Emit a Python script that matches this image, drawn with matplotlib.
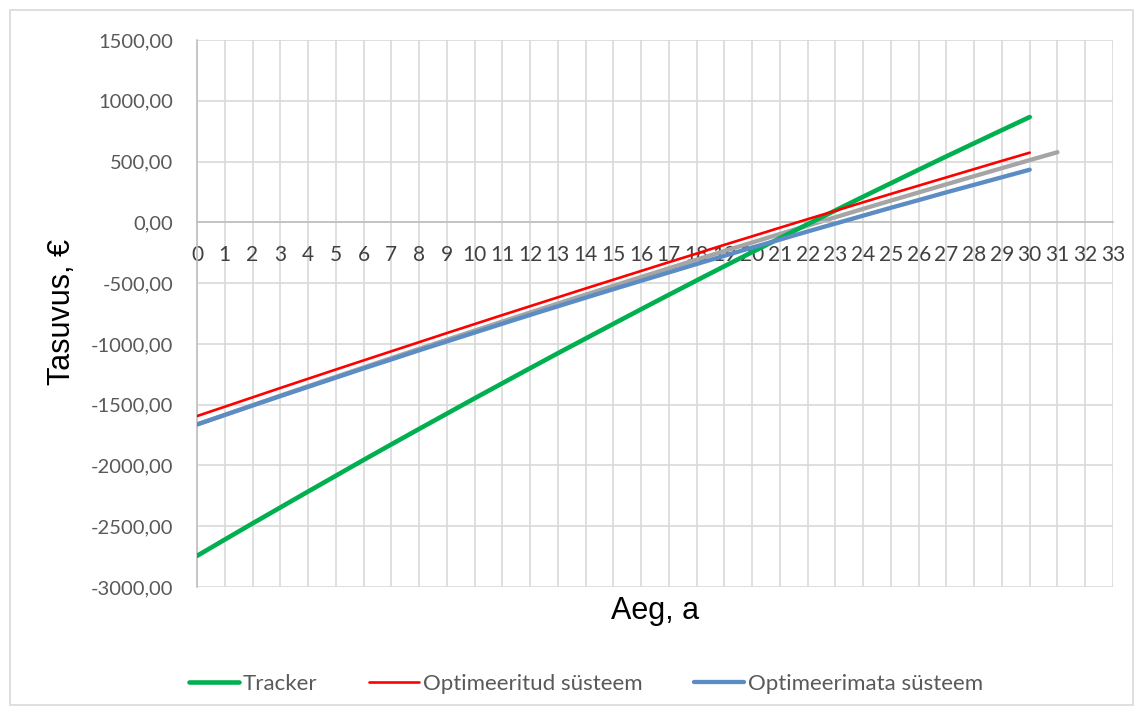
import numpy as np
import matplotlib
matplotlib.use("Agg")
import matplotlib.pyplot as plt
from matplotlib.patches import Rectangle
from matplotlib.ticker import FuncFormatter, MultipleLocator

# -------------------- data (EUR per year) --------------------
years = list(range(0, 31))
years_ext = list(range(0, 32))

tracker = [-2744, -2610, -2477, -2346, -2215, -2085, -1955, -1827, -1700, -1574,
           -1448, -1324, -1200, -1077, -956, -835, -715, -596, -478, -361,
           -245, -130, -15, 98, 211, 322, 433, 543, 651, 759, 866]

optimeeritud = [-1594, -1517, -1440, -1363, -1287, -1211, -1136, -1061, -986, -911,
                -837, -763, -690, -617, -544, -472, -400, -328, -257, -185,
                -115, -44, 26, 95, 165, 234, 302, 370, 438, 506, 573]

optimeerimata = [-1663, -1585, -1507, -1430, -1354, -1278, -1202, -1128, -1053, -980,
                 -907, -834, -762, -691, -620, -550, -481, -412, -343, -275,
                 -208, -142, -75, -10, 55, 120, 183, 247, 309, 371, 433]

# extra series (not in legend), one year longer
lisa = [-1663, -1584, -1505, -1426, -1348, -1271, -1194, -1117, -1041, -966,
        -891, -816, -742, -668, -595, -522, -450, -378, -307, -236,
        -166, -96, -27, 42, 111, 179, 246, 313, 380, 446, 512, 577]

series_labels = ["Tracker", "Optimeeritud süsteem", "Optimeerimata süsteem"]

# -------------------- figure --------------------
fig = plt.figure(figsize=(11.41, 7.15), dpi=100)
ax = fig.add_axes([197 / 1141, 1 - 587 / 715, (1113 - 197) / 1141, (587 - 40) / 715])

ax.plot(years_ext, lisa, color="#A5A5A5", lw=3.1, solid_capstyle="round", zorder=2)
ax.plot(years, tracker, color="#00B050", lw=3.3, solid_capstyle="round", zorder=3, label=series_labels[0])
ax.plot(years, optimeeritud, color="#FF0000", lw=1.9, solid_capstyle="round", zorder=4, label=series_labels[1])
ax.plot(years, optimeerimata, color="#5B8CC4", lw=3.1, solid_capstyle="round", zorder=3.5, label=series_labels[2])

ax.set_xlim(0, 33)
ax.set_ylim(-3000, 1500)
ax.xaxis.set_major_locator(MultipleLocator(1))
ax.yaxis.set_major_locator(MultipleLocator(500))
ax.yaxis.set_major_formatter(FuncFormatter(lambda v, p: f"{v:.2f}".replace(".", ",")))

ax.grid(True, color="#d9d9d9", lw=1.2, zorder=0)
ax.set_axisbelow(True)

for s in ["top", "right"]:
    ax.spines[s].set_visible(False)
ax.spines["left"].set_color("#bfbfbf")
ax.spines["left"].set_linewidth(1.2)
ax.spines["bottom"].set_position(("data", 0))
ax.spines["bottom"].set_color("#bfbfbf")
ax.spines["bottom"].set_linewidth(1.2)

ax.tick_params(axis="x", length=0, pad=16, labelsize=15, labelcolor="#404040")
ax.tick_params(axis="y", length=0, pad=17, labelsize=14.5, labelcolor="#595959")
for t in ax.get_xticklabels() + ax.get_yticklabels():
    t.set_family("Lato")

# axis titles
fig.text(655 / 1141, 1 - 611 / 715, "Aeg, a", fontsize=22, family="Liberation Sans",
         ha="center", va="center")
fig.text(62 / 1141, 1 - 312 / 715, "Tasuvus, €", fontsize=22, family="Liberation Sans",
         rotation=90, ha="center", va="center")

# legend
fig.legend(loc="center", bbox_to_anchor=(586 / 1141, 1 - 684 / 715), ncol=3,
           frameon=False, handlelength=2.25, handletextpad=0.2, columnspacing=2.3,
           prop={"family": "Lato", "size": 16}, labelcolor="#595959")

# chart area border
fig.patches.append(Rectangle((10 / 1141, 10 / 715), 1123 / 1141, 695 / 715,
                             transform=fig.transFigure, fill=False,
                             edgecolor="#d9d9d9", lw=1.2))

fig.savefig("out.png", dpi=100)
